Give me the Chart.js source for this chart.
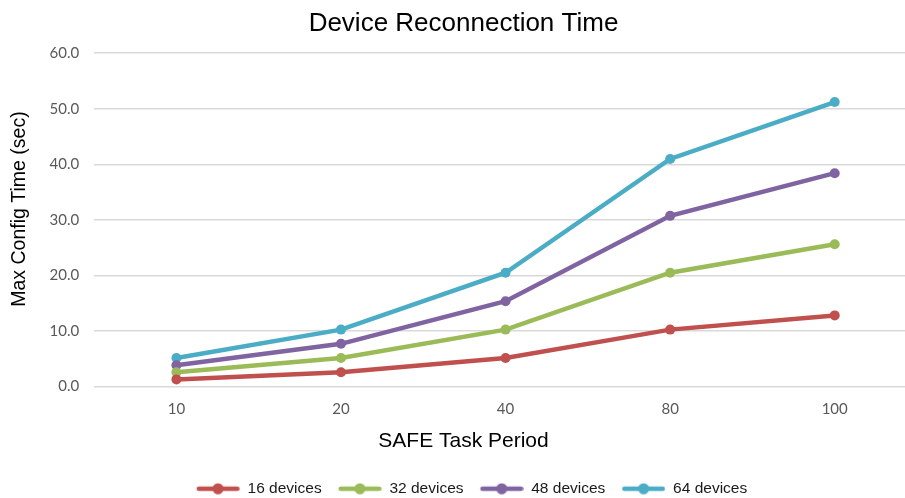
<!DOCTYPE html>
<html>
<head>
<meta charset="utf-8">
<script src="https://cdn.jsdelivr.net/npm/chart.js@4.4.1/dist/chart.umd.min.js"></script>
<style>
  html, body { margin: 0; padding: 0; background: #fff; overflow: hidden; }
  #wrap { position: relative; width: 927px; height: 498px; }
</style>
</head>
<body>
<div id="wrap"><canvas id="reconnChart"></canvas></div>
<script>
const periods   = ['10', '20', '40', '80', '100'];
const dev16     = [1.28, 2.56, 5.12, 10.24, 12.8];
const dev32     = [2.56, 5.12, 10.24, 20.48, 25.6];
const dev48     = [3.84, 7.68, 15.36, 30.72, 38.4];
const dev64     = [5.12, 10.24, 20.48, 40.96, 51.2];
const seriesNames = ['16 devices', '32 devices', '48 devices', '64 devices'];
const yTicks    = [0, 10, 20, 30, 40, 50, 60];

const COLORS = ['#C0504D', '#9BBB59', '#8064A2', '#4BACC6'];

// legend swatch: line with a dot, transparent strip on the left acts as gap
function legendMarker(color) {
    const c = document.createElement('canvas');
    c.width = 60; c.height = 12;
    const g = c.getContext('2d');
    g.strokeStyle = color; g.lineWidth = 4.5; g.lineCap = 'round';
    g.beginPath(); g.moveTo(19, 6); g.lineTo(57.5, 6); g.stroke();
    g.fillStyle = color;
    g.beginPath(); g.arc(38.25, 6, 5.5, 0, Math.PI * 2); g.fill();
    return c;
}

function makeSet(i, data) {
    return {
        label: seriesNames[i], data,
        borderColor: COLORS[i], backgroundColor: COLORS[i],
        borderWidth: 4.5, pointRadius: 5, pointHoverRadius: 5,
        pointBackgroundColor: COLORS[i], pointBorderColor: COLORS[i], pointBorderWidth: 0,
        tension: 0, fill: false
    };
}

const tickFont = { family: 'Lato', size: 15 };
const tickColor = '#595959';

new Chart(document.getElementById('reconnChart').getContext('2d'), {
    type: 'line',
    data: {
        labels: periods,
        datasets: [makeSet(0, dev16), makeSet(1, dev32), makeSet(2, dev48), makeSet(3, dev64)]
    },
    options: {
        responsive: true, maintainAspectRatio: false, animation: false,
        layout: { padding: { left: 10, right: 10, top: 0, bottom: -8.5 } },
        plugins: {
            title: {
                display: true, text: 'Device Reconnection Time', color: '#000',
                font: { family: 'Liberation Sans', size: 26, weight: 'normal' },
                padding: { top: 8, bottom: 14 }
            },
            subtitle: {
                display: true, text: 'SAFE Task Period', position: 'bottom', weight: 500, color: '#000',
                font: { family: 'Liberation Sans', size: 21, weight: 'normal', lineHeight: 1 },
                padding: { top: 0, bottom: 29 }
            },
            legend: {
                display: true, position: 'bottom',
                labels: {
                    usePointStyle: true, pointStyleWidth: 60, padding: 0,
                    color: '#1a1a1a', font: { family: 'Liberation Sans', size: 15.5 },
                    generateLabels: chart => chart.data.datasets.map((ds, i) => ({
                        text: ds.label, pointStyle: legendMarker(COLORS[i]),
                        fillStyle: COLORS[i], strokeStyle: COLORS[i], lineWidth: 0,
                        fontColor: '#1a1a1a', datasetIndex: i, hidden: false
                    }))
                }
            },
            tooltip: { enabled: false }
        },
        scales: {
            x: {
                offset: true,
                grid: { display: false, drawTicks: false },
                border: { display: false },
                ticks: { color: tickColor, font: tickFont, padding: 13.25 }
            },
            y: {
                min: 0, max: 60,
                afterBuildTicks: axis => { axis.ticks = yTicks.map(v => ({ value: v })); },
                grid: { color: '#d9d9d9', lineWidth: 1.5, drawTicks: false },
                border: { display: false },
                ticks: { color: tickColor, font: tickFont, padding: 15, callback: v => v.toFixed(1) },
                title: {
                    display: true, text: '\u00a0\u00a0\u00a0\u00a0Max Config Time (sec)', color: '#000',
                    font: { family: 'Liberation Sans', size: 19.5, weight: 'normal', lineHeight: 1 },
                    padding: { top: 0, bottom: 5 }
                }
            }
        }
    }
});
</script>
</body>
</html>
